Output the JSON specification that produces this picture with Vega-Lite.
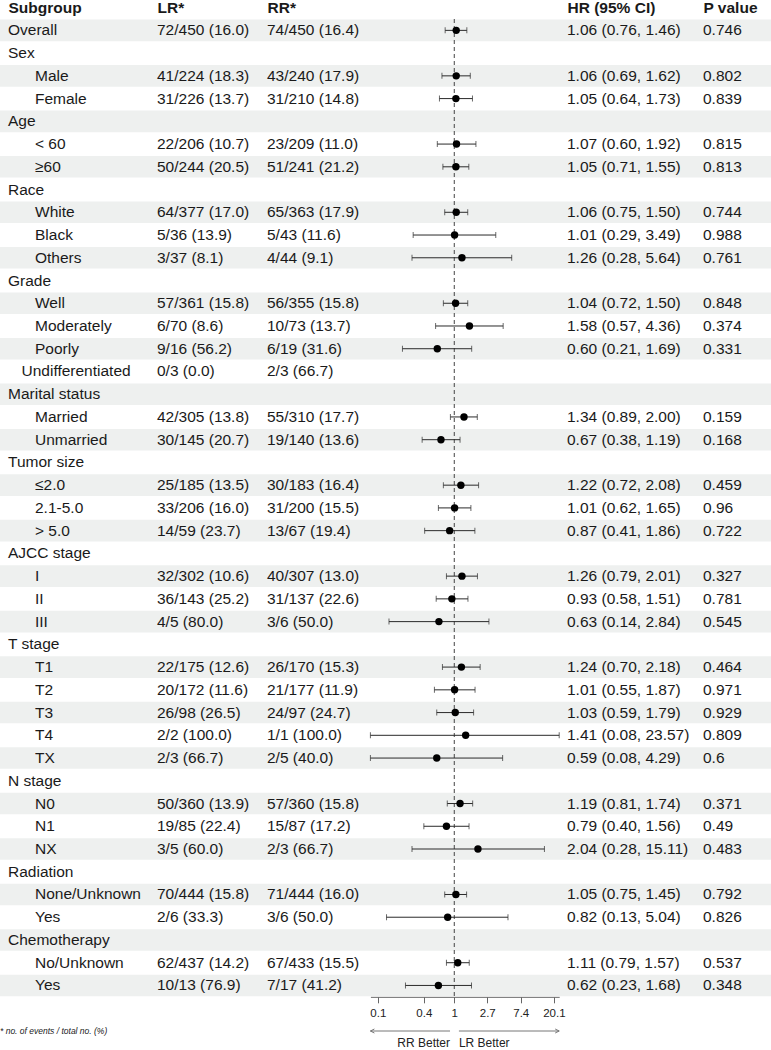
{
  "$schema": "https://vega.github.io/schema/vega-lite/v6.json",
  "padding": 0,
  "spacing": 5,
  "config": {
    "font": "Liberation Sans",
    "view": {"stroke": null},
    "text": {"fontSize": 15.5, "color": "#1a1a1a", "baseline": "middle"},
    "axis": {"labelFont": "Liberation Sans", "titleFont": "Liberation Sans"}
  },
  "datasets": {
    "rows": [
      {"row": 0, "group": "Overall", "indent": 0, "lr": "72/450 (16.0)", "rr": "74/450 (16.4)", "hr": 1.06, "lo": 0.76, "hi": 1.46, "hrci": "1.06 (0.76, 1.46)", "p": "0.746"},
      {"row": 1, "group": "Sex", "indent": 0},
      {"row": 2, "group": "Male", "indent": 6, "lr": "41/224 (18.3)", "rr": "43/240 (17.9)", "hr": 1.06, "lo": 0.69, "hi": 1.62, "hrci": "1.06 (0.69, 1.62)", "p": "0.802"},
      {"row": 3, "group": "Female", "indent": 6, "lr": "31/226 (13.7)", "rr": "31/210 (14.8)", "hr": 1.05, "lo": 0.64, "hi": 1.73, "hrci": "1.05 (0.64, 1.73)", "p": "0.839"},
      {"row": 4, "group": "Age", "indent": 0},
      {"row": 5, "group": "< 60", "indent": 6, "lr": "22/206 (10.7)", "rr": "23/209 (11.0)", "hr": 1.07, "lo": 0.60, "hi": 1.92, "hrci": "1.07 (0.60, 1.92)", "p": "0.815"},
      {"row": 6, "group": "≥60", "indent": 6, "lr": "50/244 (20.5)", "rr": "51/241 (21.2)", "hr": 1.05, "lo": 0.71, "hi": 1.55, "hrci": "1.05 (0.71, 1.55)", "p": "0.813"},
      {"row": 7, "group": "Race", "indent": 0},
      {"row": 8, "group": "White", "indent": 6, "lr": "64/377 (17.0)", "rr": "65/363 (17.9)", "hr": 1.06, "lo": 0.75, "hi": 1.50, "hrci": "1.06 (0.75, 1.50)", "p": "0.744"},
      {"row": 9, "group": "Black", "indent": 6, "lr": "5/36 (13.9)", "rr": "5/43 (11.6)", "hr": 1.01, "lo": 0.29, "hi": 3.49, "hrci": "1.01 (0.29, 3.49)", "p": "0.988"},
      {"row": 10, "group": "Others", "indent": 6, "lr": "3/37 (8.1)", "rr": "4/44 (9.1)", "hr": 1.26, "lo": 0.28, "hi": 5.64, "hrci": "1.26 (0.28, 5.64)", "p": "0.761"},
      {"row": 11, "group": "Grade", "indent": 0},
      {"row": 12, "group": "Well", "indent": 6, "lr": "57/361 (15.8)", "rr": "56/355 (15.8)", "hr": 1.04, "lo": 0.72, "hi": 1.50, "hrci": "1.04 (0.72, 1.50)", "p": "0.848"},
      {"row": 13, "group": "Moderately", "indent": 6, "lr": "6/70 (8.6)", "rr": "10/73 (13.7)", "hr": 1.58, "lo": 0.57, "hi": 4.36, "hrci": "1.58 (0.57, 4.36)", "p": "0.374"},
      {"row": 14, "group": "Poorly", "indent": 6, "lr": "9/16 (56.2)", "rr": "6/19 (31.6)", "hr": 0.60, "lo": 0.21, "hi": 1.69, "hrci": "0.60 (0.21, 1.69)", "p": "0.331"},
      {"row": 15, "group": "Undifferentiated", "indent": 3, "lr": "0/3 (0.0)", "rr": "2/3 (66.7)"},
      {"row": 16, "group": "Marital status", "indent": 0},
      {"row": 17, "group": "Married", "indent": 6, "lr": "42/305 (13.8)", "rr": "55/310 (17.7)", "hr": 1.34, "lo": 0.89, "hi": 2.00, "hrci": "1.34 (0.89, 2.00)", "p": "0.159"},
      {"row": 18, "group": "Unmarried", "indent": 6, "lr": "30/145 (20.7)", "rr": "19/140 (13.6)", "hr": 0.67, "lo": 0.38, "hi": 1.19, "hrci": "0.67 (0.38, 1.19)", "p": "0.168"},
      {"row": 19, "group": "Tumor size", "indent": 0},
      {"row": 20, "group": "≤2.0", "indent": 6, "lr": "25/185 (13.5)", "rr": "30/183 (16.4)", "hr": 1.22, "lo": 0.72, "hi": 2.08, "hrci": "1.22 (0.72, 2.08)", "p": "0.459"},
      {"row": 21, "group": "2.1-5.0", "indent": 6, "lr": "33/206 (16.0)", "rr": "31/200 (15.5)", "hr": 1.01, "lo": 0.62, "hi": 1.65, "hrci": "1.01 (0.62, 1.65)", "p": "0.96"},
      {"row": 22, "group": "> 5.0", "indent": 6, "lr": "14/59 (23.7)", "rr": "13/67 (19.4)", "hr": 0.87, "lo": 0.41, "hi": 1.86, "hrci": "0.87 (0.41, 1.86)", "p": "0.722"},
      {"row": 23, "group": "AJCC stage", "indent": 0},
      {"row": 24, "group": "I", "indent": 6, "lr": "32/302 (10.6)", "rr": "40/307 (13.0)", "hr": 1.26, "lo": 0.79, "hi": 2.01, "hrci": "1.26 (0.79, 2.01)", "p": "0.327"},
      {"row": 25, "group": "II", "indent": 6, "lr": "36/143 (25.2)", "rr": "31/137 (22.6)", "hr": 0.93, "lo": 0.58, "hi": 1.51, "hrci": "0.93 (0.58, 1.51)", "p": "0.781"},
      {"row": 26, "group": "III", "indent": 6, "lr": "4/5 (80.0)", "rr": "3/6 (50.0)", "hr": 0.63, "lo": 0.14, "hi": 2.84, "hrci": "0.63 (0.14, 2.84)", "p": "0.545"},
      {"row": 27, "group": "T stage", "indent": 0},
      {"row": 28, "group": "T1", "indent": 6, "lr": "22/175 (12.6)", "rr": "26/170 (15.3)", "hr": 1.24, "lo": 0.70, "hi": 2.18, "hrci": "1.24 (0.70, 2.18)", "p": "0.464"},
      {"row": 29, "group": "T2", "indent": 6, "lr": "20/172 (11.6)", "rr": "21/177 (11.9)", "hr": 1.01, "lo": 0.55, "hi": 1.87, "hrci": "1.01 (0.55, 1.87)", "p": "0.971"},
      {"row": 30, "group": "T3", "indent": 6, "lr": "26/98 (26.5)", "rr": "24/97 (24.7)", "hr": 1.03, "lo": 0.59, "hi": 1.79, "hrci": "1.03 (0.59, 1.79)", "p": "0.929"},
      {"row": 31, "group": "T4", "indent": 6, "lr": "2/2 (100.0)", "rr": "1/1 (100.0)", "hr": 1.41, "lo": 0.08, "hi": 23.57, "hrci": "1.41 (0.08, 23.57)", "p": "0.809"},
      {"row": 32, "group": "TX", "indent": 6, "lr": "2/3 (66.7)", "rr": "2/5 (40.0)", "hr": 0.59, "lo": 0.08, "hi": 4.29, "hrci": "0.59 (0.08, 4.29)", "p": "0.6"},
      {"row": 33, "group": "N stage", "indent": 0},
      {"row": 34, "group": "N0", "indent": 6, "lr": "50/360 (13.9)", "rr": "57/360 (15.8)", "hr": 1.19, "lo": 0.81, "hi": 1.74, "hrci": "1.19 (0.81, 1.74)", "p": "0.371"},
      {"row": 35, "group": "N1", "indent": 6, "lr": "19/85 (22.4)", "rr": "15/87 (17.2)", "hr": 0.79, "lo": 0.40, "hi": 1.56, "hrci": "0.79 (0.40, 1.56)", "p": "0.49"},
      {"row": 36, "group": "NX", "indent": 6, "lr": "3/5 (60.0)", "rr": "2/3 (66.7)", "hr": 2.04, "lo": 0.28, "hi": 15.11, "hrci": "2.04 (0.28, 15.11)", "p": "0.483"},
      {"row": 37, "group": "Radiation", "indent": 0},
      {"row": 38, "group": "None/Unknown", "indent": 6, "lr": "70/444 (15.8)", "rr": "71/444 (16.0)", "hr": 1.05, "lo": 0.75, "hi": 1.45, "hrci": "1.05 (0.75, 1.45)", "p": "0.792"},
      {"row": 39, "group": "Yes", "indent": 6, "lr": "2/6 (33.3)", "rr": "3/6 (50.0)", "hr": 0.82, "lo": 0.13, "hi": 5.04, "hrci": "0.82 (0.13, 5.04)", "p": "0.826"},
      {"row": 40, "group": "Chemotherapy", "indent": 0},
      {"row": 41, "group": "No/Unknown", "indent": 6, "lr": "62/437 (14.2)", "rr": "67/433 (15.5)", "hr": 1.11, "lo": 0.79, "hi": 1.57, "hrci": "1.11 (0.79, 1.57)", "p": "0.537"},
      {"row": 42, "group": "Yes", "indent": 6, "lr": "10/13 (76.9)", "rr": "7/17 (41.2)", "hr": 0.62, "lo": 0.23, "hi": 1.68, "hrci": "0.62 (0.23, 1.68)", "p": "0.348"}
    ],
    "arrows": [
      {"side": "RR", "tail": 0.88, "tip": 0.08, "label": "RR Better"},
      {"side": "LR", "tail": 1.15, "tip": 23.57, "label": "LR Better"}
    ]
  },
  "vconcat": [
    {
      "width": 771,
      "height": {"step": 22.74},
      "data": {"name": "rows"},
      "layer": [
        {
          "transform": [{"filter": "datum.row % 2 == 0"}],
          "mark": {"type": "rect", "color": "#eef0ef"},
          "encoding": {
            "y": {
              "field": "row", "type": "ordinal", "axis": null,
              "scale": {
                "domain": [0,1,2,3,4,5,6,7,8,9,10,11,12,13,14,15,16,17,18,19,20,21,22,23,24,25,26,27,28,29,30,31,32,33,34,35,36,37,38,39,40,41,42],
                "paddingInner": 0.05, "paddingOuter": 0.025
              }
            }
          }
        },
        {
          "mark": {"type": "text", "align": "left"},
          "encoding": {
            "x": {"field": "indent", "type": "quantitative", "scale": {"domain": [0, 6], "range": [8, 35], "nice": false}, "axis": null},
            "y": {"field": "row", "type": "ordinal", "axis": null},
            "text": {"field": "group"}
          }
        },
        {
          "transform": [{"filter": "isValid(datum.lr)"}],
          "layer": [
            {
              "mark": {"type": "text", "align": "left"},
              "encoding": {
                "x": {
                  "datum": 1, "type": "quantitative",
                  "scale": {"domain": [0, 1, 2, 3, 4], "range": [8, 157, 267, 567, 703], "nice": false},
                  "axis": {
                    "orient": "top", "values": [0, 1, 2, 3, 4],
                    "labelExpr": "['Subgroup', 'LR*', 'RR*', 'HR (95% CI)', 'P value'][datum.value]",
                    "ticks": false, "domain": false, "grid": false, "title": null,
                    "labelAlign": "left", "labelFlush": false, "labelOverlap": false, "labelBound": false,
                    "labelFontWeight": "bold", "labelFontSize": 15.5, "labelColor": "#1a1a1a", "labelPadding": 4
                  }
                },
                "y": {"field": "row", "type": "ordinal", "axis": null},
                "text": {"field": "lr"}
              }
            },
            {
              "mark": {"type": "text", "align": "left"},
              "encoding": {
                "x": {"datum": 2, "type": "quantitative"},
                "y": {"field": "row", "type": "ordinal", "axis": null},
                "text": {"field": "rr"}
              }
            },
            {
              "transform": [{"filter": "isValid(datum.hrci)"}],
              "mark": {"type": "text", "align": "left"},
              "encoding": {
                "x": {"datum": 3, "type": "quantitative"},
                "y": {"field": "row", "type": "ordinal", "axis": null},
                "text": {"field": "hrci"}
              }
            },
            {
              "transform": [{"filter": "isValid(datum.p)"}],
              "mark": {"type": "text", "align": "left"},
              "encoding": {
                "x": {"datum": 4, "type": "quantitative"},
                "y": {"field": "row", "type": "ordinal", "axis": null},
                "text": {"field": "p"}
              }
            }
          ]
        },
        {
          "layer": [
            {
              "data": {"values": [{"ref": 1}]},
              "mark": {"type": "rule", "color": "#444", "strokeDash": [4, 3], "strokeWidth": 1},
              "encoding": {
                "x": {
                  "field": "ref", "type": "quantitative",
                  "scale": {"type": "log", "domain": [0.08, 23.57], "range": [370.4, 559.2], "nice": false},
                  "axis": {
                    "orient": "bottom", "values": [0.1, 0.4, 1, 2.7, 7.4, 20.1], "format": "~g",
                    "title": null, "grid": false, "tickSize": 6, "labelPadding": 5,
                    "labelFontSize": 11.5, "labelColor": "#222", "domainColor": "#666", "tickColor": "#666",
                    "labelFlush": false, "labelOverlap": false
                  }
                }
              }
            },
            {
              "transform": [{"filter": "isValid(datum.hr)"}],
              "mark": {"type": "rule", "color": "#2a2a2a", "strokeWidth": 1},
              "encoding": {
                "x": {"field": "lo", "type": "quantitative"},
                "x2": {"field": "hi"},
                "y": {"field": "row", "type": "ordinal", "axis": null}
              }
            },
            {
              "transform": [{"filter": "isValid(datum.hr)"}],
              "mark": {"type": "tick", "orient": "vertical", "size": 6, "thickness": 1, "color": "#2a2a2a"},
              "encoding": {
                "x": {"field": "lo", "type": "quantitative"},
                "y": {"field": "row", "type": "ordinal", "axis": null}
              }
            },
            {
              "transform": [{"filter": "isValid(datum.hr)"}],
              "mark": {"type": "tick", "orient": "vertical", "size": 6, "thickness": 1, "color": "#2a2a2a"},
              "encoding": {
                "x": {"field": "hi", "type": "quantitative"},
                "y": {"field": "row", "type": "ordinal", "axis": null}
              }
            },
            {
              "transform": [{"filter": "isValid(datum.hr)"}],
              "mark": {"type": "circle", "size": 55, "opacity": 1, "color": "#000"},
              "encoding": {
                "x": {"field": "hr", "type": "quantitative"},
                "y": {"field": "row", "type": "ordinal", "axis": null}
              }
            }
          ]
        }
      ],
      "resolve": {"scale": {"x": "independent"}, "axis": {"x": "independent"}}
    },
    {
      "width": 771,
      "height": 24,
      "layer": [
        {
          "data": {"name": "arrows"},
          "layer": [
            {
              "mark": {"type": "rule", "color": "#777", "strokeWidth": 1},
              "encoding": {
                "x": {"field": "tail", "type": "quantitative", "scale": {"type": "log", "domain": [0.08, 23.57], "range": [370.4, 559.2], "nice": false}, "axis": null},
                "x2": {"field": "tip"},
                "y": {"datum": "arrow", "type": "nominal", "scale": {"domain": ["arrow", "label"], "paddingInner": 0, "paddingOuter": 0}, "axis": null}
              }
            },
            {
              "transform": [{"filter": "datum.side == 'RR'"}],
              "mark": {"type": "point", "shape": "M2,-1L0,0L2,1", "filled": false, "size": 16, "color": "#777", "strokeWidth": 1, "opacity": 1},
              "encoding": {
                "x": {"field": "tip", "type": "quantitative", "axis": null},
                "y": {"datum": "arrow", "type": "nominal", "axis": null}
              }
            },
            {
              "transform": [{"filter": "datum.side == 'LR'"}],
              "mark": {"type": "point", "shape": "M-2,-1L0,0L-2,1", "filled": false, "size": 16, "color": "#777", "strokeWidth": 1, "opacity": 1},
              "encoding": {
                "x": {"field": "tip", "type": "quantitative", "axis": null},
                "y": {"datum": "arrow", "type": "nominal", "axis": null}
              }
            },
            {
              "transform": [{"filter": "datum.side == 'RR'"}],
              "mark": {"type": "text", "align": "right", "fontSize": 12, "color": "#222"},
              "encoding": {
                "x": {"field": "tail", "type": "quantitative", "axis": null},
                "y": {"datum": "label", "type": "nominal", "axis": null},
                "text": {"field": "label"}
              }
            },
            {
              "transform": [{"filter": "datum.side == 'LR'"}],
              "mark": {"type": "text", "align": "left", "fontSize": 12, "color": "#222"},
              "encoding": {
                "x": {"field": "tail", "type": "quantitative", "axis": null},
                "y": {"datum": "label", "type": "nominal", "axis": null},
                "text": {"field": "label"}
              }
            }
          ]
        },
        {
          "data": {"values": [{"note": "* no. of events / total no. (%)"}]},
          "mark": {"type": "text", "align": "left", "fontSize": 8.5, "fontStyle": "italic", "color": "#222"},
          "encoding": {
            "x": {"datum": 0, "type": "quantitative", "scale": {"domain": [0, 1]}, "axis": null},
            "y": {"datum": "arrow", "type": "nominal", "axis": null},
            "text": {"field": "note"}
          }
        }
      ],
      "resolve": {"scale": {"x": "independent"}, "axis": {"x": "independent"}}
    }
  ]
}
